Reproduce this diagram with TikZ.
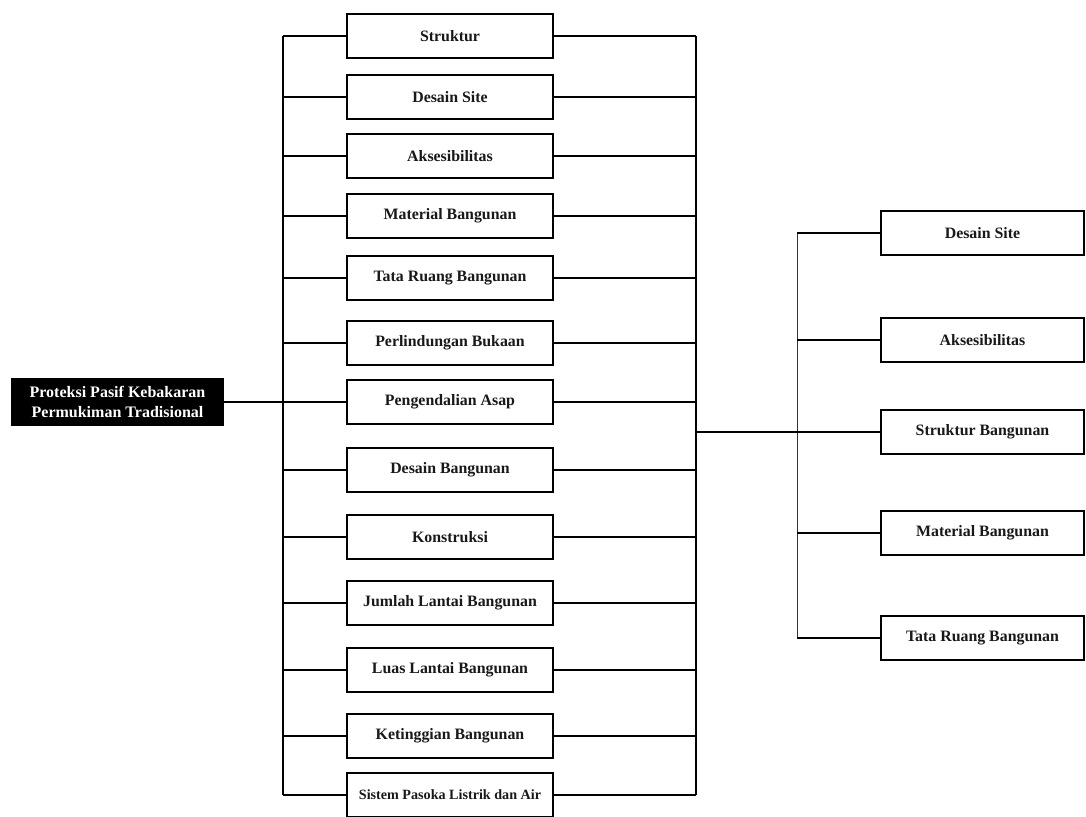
\documentclass[tikz,border=0pt]{standalone}
\usepackage{fontspec}
\setmainfont{Liberation Serif}
\begin{document}
\begin{tikzpicture}[x=0.75pt,y=-0.75pt,
  box/.style={draw=black,line width=1.5pt,fill=white,inner sep=0pt,
    font=\fontsize{11.9}{14}\selectfont\bfseries,text=black!90},
  midbox/.style={box,minimum width=154.5pt,minimum height=33pt},
  sidebox/.style={box,minimum width=152pt,minimum height=33.5pt},
  rootbox/.style={fill=black,text=white,inner sep=0pt,minimum width=160pt,
    minimum height=36pt,align=center,
    font=\fontsize{12}{15}\selectfont\bfseries},
  link/.style={line width=1.1pt},
  bus/.style={line width=1.4pt},
  thinbus/.style={line width=0.7pt,draw=black!80}]

\useasboundingbox (0,0) rectangle (1086,817);

% root
\node[rootbox] (root) at (117.5,402) {Proteksi Pasif Kebakaran\\Permukiman Tradisional};

% middle column of criteria
\node[midbox] (m1)  at (450,36)  {Struktur};
\node[midbox] (m2)  at (450,97)  {Desain Site};
\node[midbox] (m3)  at (450,156) {Aksesibilitas};
\node[midbox] (m4)  at (450,216) {Material Bangunan};
\node[midbox] (m5)  at (450,278) {Tata Ruang Bangunan};
\node[midbox] (m6)  at (450,343) {Perlindungan Bukaan};
\node[midbox] (m7)  at (450,402) {Pengendalian Asap};
\node[midbox] (m8)  at (450,470) {Desain Bangunan};
\node[midbox] (m9)  at (450,537) {Konstruksi};
\node[midbox] (m10) at (450,603) {Jumlah Lantai Bangunan};
\node[midbox] (m11) at (450,670) {Luas Lantai Bangunan};
\node[midbox] (m12) at (450,736) {Ketinggian Bangunan};
\node[midbox,font=\fontsize{10.6}{12}\selectfont\bfseries] (m13) at (450,795) {Sistem Pasoka Listrik dan Air};

% right column of grouped criteria
\node[sidebox] (s1) at (982.5,233) {Desain Site};
\node[sidebox] (s2) at (982.5,340) {Aksesibilitas};
\node[sidebox] (s3) at (982.5,432) {Struktur Bangunan};
\node[sidebox] (s4) at (982.5,533) {Material Bangunan};
\node[sidebox] (s5) at (982.5,638) {Tata Ruang Bangunan};

% bus bars
\coordinate (lt) at (283,36);
\coordinate (lb) at (283,795);
\coordinate (rt) at (696,36);
\coordinate (rb) at (696,795);
\coordinate (st) at (797,233);
\coordinate (sb) at (797,638);

\draw[bus] (lt) -- (lb);
\draw[bus] (rt) -- (rb);
\draw[thinbus] (st) -- (sb);

% branches of the middle column
\foreach \i in {1,...,13}{
  \draw[link] (m\i.west) -- (m\i.west -| lt);
  \draw[link] (m\i.east) -- (m\i.east -| rt);
}

% root to the middle column
\draw[link] (root.east) -- (m7.west);

% middle column to the right column
\draw[link] (s3.west -| rt) -- (s3.west);
\foreach \i in {1,2,4,5}{
  \draw[link] (s\i.west) -- (s\i.west -| st);
}
\end{tikzpicture}
\end{document}
